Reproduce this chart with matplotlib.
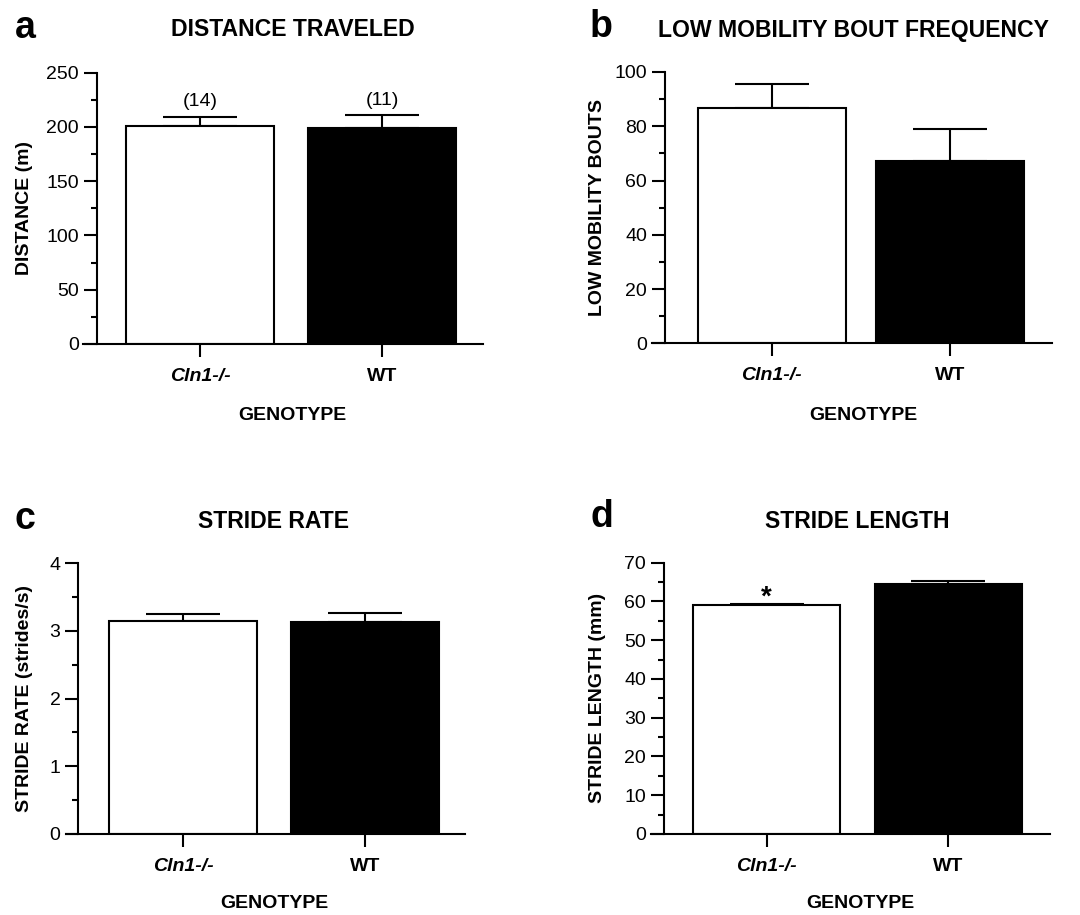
import matplotlib
matplotlib.use("Agg")
import matplotlib.pyplot as plt
from matplotlib.ticker import MultipleLocator

plt.rcParams['font.family'] = ['Liberation Sans', 'DejaVu Sans']

genotypes = ["Cln1-/-", "WT"]
bar_colors = ["white", "black"]

distance_mean = [200.6, 199.0]
distance_sem = [8.6, 11.7]
distance_n = ["(14)", "(11)"]

bouts_mean = [86.6, 67.3]
bouts_sem = [9.0, 11.7]

rate_mean = [3.15, 3.14]
rate_sem = [0.10, 0.12]

length_mean = [59.0, 64.6]
length_sem = [0.4, 0.75]

W, H = 1080, 915
fig = plt.figure(figsize=(W / 100, H / 100), dpi=100)

LW = 1.5
TICK_FS = 14
LAB_FS = 14
TITLE_FS = 16.6


def panel(ax_l, ax_r, y0, ytop, c1, c2, spine_x, bw_px, means, sems, ymax,
          major, minor, ylabel, ylabel_x, title, letter, title_xy, letter_xy, geno_xy):
    ax = fig.add_axes([ax_l / W, 1 - y0 / H, (ax_r - ax_l) / W, (y0 - ytop) / H])
    sp = c2 - c1
    xlim = ((ax_l - c1) / sp, (ax_r - c1) / sp)
    ax.set_xlim(*xlim)
    ax.set_ylim(0, ymax)
    x = [0, 1]
    ax.bar(x, means, width=bw_px / sp, color=bar_colors, edgecolor="black",
           linewidth=LW, zorder=2)
    ax.errorbar(x, means, yerr=[[0, 0], sems], fmt="none", ecolor="black",
                elinewidth=LW, capsize=bw_px / 4 / 1.389, capthick=LW, zorder=1)
    for s in ["top", "right"]:
        ax.spines[s].set_visible(False)
    ax.spines["left"].set_position(("data", (spine_x - c1) / sp))
    ax.spines["left"].set_bounds(0, ymax)
    for s in ["left", "bottom"]:
        ax.spines[s].set_linewidth(LW)
    ax.yaxis.set_major_locator(MultipleLocator(major))
    ax.yaxis.set_minor_locator(MultipleLocator(minor))
    ax.tick_params(axis="y", which="major", length=9.4, width=LW,
                   labelsize=TICK_FS, pad=3.5)
    ax.tick_params(axis="y", which="minor", length=4.5, width=LW)
    ax.set_xticks(x)
    ax.set_xticklabels(genotypes, fontsize=LAB_FS, fontweight="bold")
    ax.get_xticklabels()[0].set_style("italic")
    ax.tick_params(axis="x", length=9.4, width=LW, pad=8)
    ax.set_ylabel(ylabel, fontsize=LAB_FS, fontweight="bold")
    ax.yaxis.set_label_coords((ylabel_x - ax_l) / (ax_r - ax_l), 0.5)
    fig.text(title_xy[0] / W, 1 - title_xy[1] / H, title, fontsize=TITLE_FS,
             fontweight="bold", ha="center", va="center")
    fig.text(letter_xy[0] / W, 1 - letter_xy[1] / H, letter, fontsize=27,
             fontweight="bold", ha="center", va="center")
    fig.text(geno_xy[0] / W, 1 - geno_xy[1] / H, "GENOTYPE", fontsize=LAB_FS,
             fontweight="bold", ha="center", va="center")
    ax.patch.set_alpha(0)
    return ax


ax_a = panel(83, 483, 344, 72.7, 200, 382, 96.7, 148, distance_mean, distance_sem,
             250, 50, 25, "DISTANCE (m)", 33, "DISTANCE TRAVELED", "a",
             (293, 30), (25, 28), (292, 415))
for i, t in enumerate(distance_n):
    ax_a.text(i, distance_mean[i] + distance_sem[i] + 6, t, ha="center",
              va="bottom", fontsize=TICK_FS)

ax_b = panel(651.7, 1051.7, 343.3, 72, 771.7, 950, 665, 147.6, bouts_mean, bouts_sem,
             100, 20, 10, "LOW MOBILITY BOUTS", 606, "LOW MOBILITY BOUT FREQUENCY", "b",
             (854, 30), (601, 27), (863, 415))

ax_c = panel(65.7, 465, 834, 563.3, 183, 365, 78.3, 148, rate_mean, rate_sem,
             4, 1, 0.5, "STRIDE RATE (strides/s)", 33, "STRIDE RATE", "c",
             (273, 521), (25, 519), (274, 903))

ax_d = panel(651, 1050, 834, 562.7, 766.7, 948.3, 664, 147, length_mean, length_sem,
             70, 10, 5, "STRIDE LENGTH (mm)", 606, "STRIDE LENGTH", "d",
             (857, 521), (602, 517), (860, 903))
ax_d.text(0, length_mean[0] + length_sem[0] - 1.7, "*", ha="center", va="bottom",
          fontsize=20, fontweight="bold")

fig.savefig("out.png", dpi=100, facecolor="white")
